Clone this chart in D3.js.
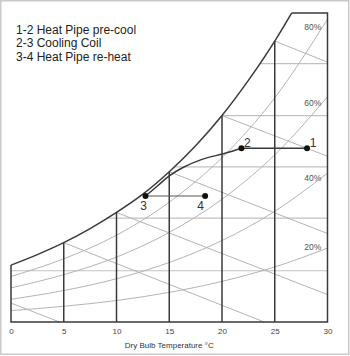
<!DOCTYPE html>
<html><head><meta charset="utf-8">
<script src="https://cdn.jsdelivr.net/npm/d3@7"></script>
<style>html,body{margin:0;padding:0;background:#fff;}svg{display:block;font-family:"Liberation Sans",Arial,sans-serif;}</style>
</head><body><div id="chart"></div>
<script>
// ---- data (dry bulb °C, moisture content g/kg) ----
const xTicks = [0, 5, 10, 15, 20, 25, 30];
const satT = [0, 2.5, 5, 7.5, 10, 12.5, 15, 17.5, 20, 22.5, 25, 26.6];
const satW = [4.05, 4.8, 5.65, 6.65, 7.8, 9.1, 10.7, 12.55, 14.7, 17.2, 20.0, 22.0];
const rhT = [0, 5, 10, 15, 20, 25, 30];
const rh80 = [3.24, 4.50, 6.18, 8.53, 11.70, 15.96, 21.57];
const rh60 = [2.43, 3.37, 4.62, 6.38, 8.74, 11.90, 16.04];
const rh40 = [1.62, 2.24, 3.08, 4.24, 5.80, 7.88, 10.60];
const rh20 = [0.81, 1.12, 1.53, 2.11, 2.89, 3.92, 5.26];
const rhLabels = ["80%", "60%", "40%", "20%"];
const rhLabelW = [20.98, 15.57, 10.27, 5.34];
const moistureLines = [3.65, 7.4, 11.05, 14.7, 18.4];
const enthalpyFrom = [[0, 1.35], [5, 5.65], [10, 7.8], [15, 10.7], [20, 14.7], [25, 20.0]];
const enthalpyTo = [[4.6, 0], [24.0, 0], [30, 1.95], [30, 6.3], [30, 11.8], [30, 18.5]];
const coilCurve = [[21.84, 12.37], [20.3, 12.01], [18.1, 11.58], [16.3, 11.0], [15, 10.4], [13.9, 9.7], [12.75, 8.97]];
const pointLabels = ["1", "2", "3", "4"];
const pointT = [28.06, 21.84, 12.75, 18.4];
const pointW = [12.37, 12.37, 8.97, 8.97];
const legendLines = ["1-2 Heat Pipe pre-cool", "2-3 Cooling Coil", "3-4 Heat Pipe re-heat"];
const xTitle = "Dry Bulb Temperature °C";

// ---- drawing ----
const W = 350, H = 356;
const svg = d3.select("#chart").append("svg").attr("width", W).attr("height", H);
const x = d3.scaleLinear().domain([0, 30]).range([11, 327.5]);
const y = d3.scaleLinear().domain([0, 22]).range([322, 13]);
const satOf = d3.scaleLinear().domain(satT).range(satW);
const tOfSat = d3.scaleLinear().domain(satW).range(satT);

svg.append("rect").attr("x", 0.75).attr("y", 0.75).attr("width", 348).attr("height", 353.5)
  .attr("fill", "#fff").attr("stroke", "#c9c9c9").attr("stroke-width", 1.5);

const gray = "#b4b4b4", dark = "#3a3a3a";
const line = d3.line().x(d => x(d[0])).y(d => y(d[1]));

// constant moisture lines
svg.append("g").selectAll("line").data(moistureLines).join("line")
  .attr("x1", d => x(d < satW[0] ? 0 : tOfSat(d))).attr("x2", x(30))
  .attr("y1", d => y(d)).attr("y2", d => y(d))
  .attr("stroke", "#c2c2c2").attr("stroke-width", 1.2);

// enthalpy lines
svg.append("g").selectAll("line").data(enthalpyFrom).join("line")
  .attr("x1", d => x(d[0])).attr("y1", d => y(d[1]))
  .attr("x2", (d, i) => x(enthalpyTo[i][0])).attr("y2", (d, i) => y(enthalpyTo[i][1]))
  .attr("stroke", gray).attr("stroke-width", 1);

// RH curves
const rhSeries = [rh80, rh60, rh40, rh20];
const rhLine = d3.line().x((d, i) => x(rhT[i])).y(d => y(d)).curve(d3.curveMonotoneX);
svg.append("g").selectAll("path").data(rhSeries).join("path")
  .attr("d", d => rhLine(d)).attr("fill", "none").attr("stroke", gray).attr("stroke-width", 1);

svg.append("g").selectAll("text").data(rhLabels).join("text")
  .attr("x", x(28.6)).attr("y", (d, i) => y(rhLabelW[i]) + 3)
  .attr("text-anchor", "middle").attr("font-size", 8.5).attr("fill", "#555").text(d => d);

// vertical dry bulb lines
svg.append("g").selectAll("line").data(xTicks.slice(1, 6)).join("line")
  .attr("x1", d => x(d)).attr("x2", d => x(d))
  .attr("y1", y(0)).attr("y2", d => y(satOf(d)))
  .attr("stroke", dark).attr("stroke-width", 1.5);

// saturation curve and chart outline
const outline = [[0, 0], [0, satW[0]]].concat(satT.map((t, i) => [t, satW[i]]).slice(1));
const satLine = d3.line().x(d => x(d[0])).y(d => y(d[1])).curve(d3.curveMonotoneX);
svg.append("path").attr("d", satLine(satT.map((t, i) => [t, satW[i]])))
  .attr("fill", "none").attr("stroke", dark).attr("stroke-width", 1.5);
svg.append("path").attr("d", line([[0, satW[0]], [0, 0], [30, 0], [30, 22], [satT[satT.length - 1], 22]]))
  .attr("fill", "none").attr("stroke", dark).attr("stroke-width", 1.5);

// process lines
svg.append("path").attr("d", line([[pointT[0], pointW[0]], [pointT[1], pointW[1]]]))
  .attr("fill", "none").attr("stroke", dark).attr("stroke-width", 1.5);
svg.append("path").attr("d", d3.line().x(d => x(d[0])).y(d => y(d[1])).curve(d3.curveCatmullRom.alpha(0.5))(coilCurve))
  .attr("fill", "none").attr("stroke", dark).attr("stroke-width", 1.5);
svg.append("path").attr("d", line([[pointT[2], pointW[2]], [pointT[3], pointW[3]]]))
  .attr("fill", "none").attr("stroke", "#555").attr("stroke-width", 1.2);

svg.append("g").selectAll("circle").data(pointT).join("circle")
  .attr("cx", d => x(d)).attr("cy", (d, i) => y(pointW[i])).attr("r", 3).attr("fill", "#111");

const lblDx = [6, 6, -2, -4.5], lblDy = [-1.3, -1.3, 13.5, 13.5];
svg.append("g").selectAll("text").data(pointLabels).join("text")
  .attr("x", (d, i) => x(pointT[i]) + lblDx[i]).attr("y", (d, i) => y(pointW[i]) + lblDy[i])
  .attr("text-anchor", "middle").attr("font-size", 12).attr("fill", "#333").text(d => d);

// axis
const axis = svg.append("g").attr("transform", `translate(0,${y(0)})`)
  .call(d3.axisBottom(x).tickValues(xTicks).tickSize(0).tickPadding(6).tickFormat(d3.format("d")));
axis.select(".domain").remove();
axis.selectAll("text").attr("font-size", 8).attr("fill", "#444").attr("font-family", "Liberation Sans, Arial, sans-serif");

svg.append("text").attr("x", x(15)).attr("y", 348).attr("text-anchor", "middle")
  .attr("font-size", 8).attr("fill", "#333").text(xTitle);

// legend
svg.append("g").selectAll("text").data(legendLines).join("text")
  .attr("x", 16).attr("y", (d, i) => 34 + i * 13.4)
  .attr("font-size", 12).attr("fill", "#222").text(d => d);
</script>
</body></html>
